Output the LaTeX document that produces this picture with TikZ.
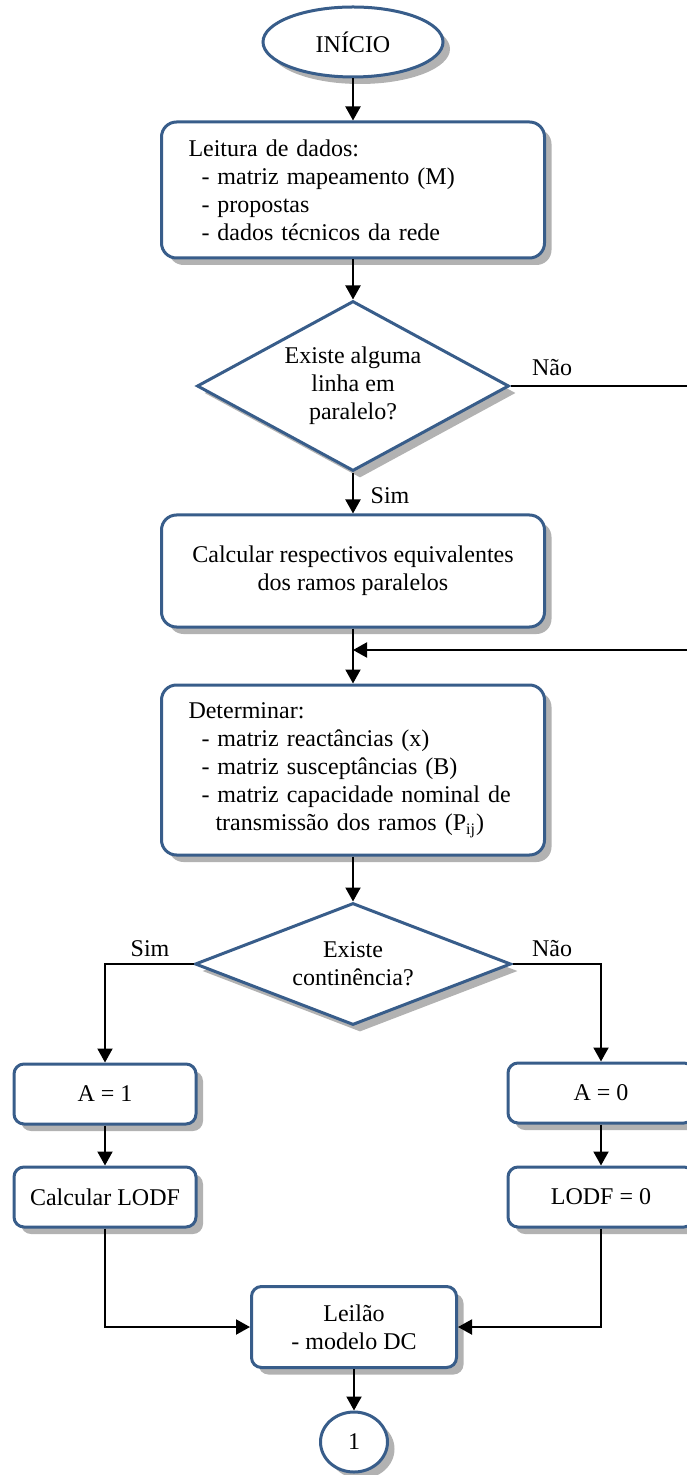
\documentclass[tikz,border=0pt]{standalone}
\usepackage{fontspec}
\setmainfont{Liberation Serif}
\usetikzlibrary{shapes.geometric,arrows.meta,shadows}
\definecolor{boxblue}{RGB}{56,93,138}
\tikzset{
every node/.style={font=\fontsize{12}{14}\selectfont},
boxshadow/.style={drop shadow={shadow xshift=3.5pt,shadow yshift=-3.5pt,fill=black!30,opacity=1}},
block/.style={boxshadow,rectangle,rounded corners=7.5pt,draw=boxblue,line width=1.5pt,fill=white},
smallblock/.style={block,rounded corners=5pt,align=center},
cond/.style={boxshadow,diamond,draw=boxblue,line width=1.5pt,fill=white,inner sep=0pt,align=center},
term/.style={boxshadow,ellipse,draw=boxblue,line width=1.5pt,fill=white,inner sep=0pt},
link/.style={line width=1pt,draw=black},
arr/.style={link,-{Triangle[length=7pt,width=7.5pt]}},
}
\newcommand{\ind}{\hspace*{6.5pt}}

\begin{document}
\begin{tikzpicture}[x=0.5pt,y=-0.5pt]
\useasboundingbox (0,0) rectangle (686,1475);
\node[term,minimum width=90pt,minimum height=35pt] (inicio) at (353,42) {INÍCIO};
\node[block,text width=164.5pt,inner xsep=13.5pt,minimum height=68pt,align=left] (leitura) at (353,190)
  {Leitura de dados:\\\ind- matriz mapeamento (M)\\\ind- propostas\\\ind- dados técnicos da rede};
\node[cond,shape aspect=1.835,minimum width=156pt,minimum height=85pt] (paral) at (353,386)
  {Existe alguma\\linha em\\paralelo?};
\node (nao1) at (552,368) {Não};
\node (sim1) at (390,496) {Sim};
\node[block,minimum width=191.5pt,minimum height=56pt,align=center] (calc) at (353,571)
  {Calcular respectivos equivalentes\\dos ramos paralelos};
\coordinate (merge) at (353,650);
\node[block,text width=164.5pt,inner xsep=13.5pt,minimum height=85pt,align=left] (det) at (353,770)
  {Determinar:\\\ind- matriz reactâncias (x)\\\ind- matriz susceptâncias (B)\\\ind- matriz capacidade nominal de\\\hspace*{13.5pt}transmissão dos ramos (P\textsubscript{ij})};
\node[cond,shape aspect=2.59,minimum width=158pt,minimum height=61pt] (cont) at (353,964)
  {Existe\\continência?};
\node (sim2) at (150,949) {Sim};
\node (nao2) at (552,949) {Não};
\node[smallblock,minimum width=91pt,minimum height=30pt] (a1) at (105,1094) {A = 1};
\node[smallblock,minimum width=91pt,minimum height=30pt] (lodf1) at (105,1197) {Calcular LODF};
\node[smallblock,minimum width=93pt,minimum height=30pt] (a0) at (601,1093) {A = 0};
\node[smallblock,minimum width=93pt,minimum height=30pt] (lodf0) at (601,1197) {LODF = 0};
\node[smallblock,minimum width=102.5pt,minimum height=40.5pt] (leilao) at (354,1327)
  {Leilão\\- modelo DC};
\node[term,minimum width=33.5pt,minimum height=30pt] (fim) at (354,1442) {1};

\draw[arr] (inicio) -- (leitura);
\draw[arr] (leitura) -- (paral);
\draw[arr] (paral.east) -- ++(184,0) |- (merge);
\draw[arr] (paral) -- (calc);
\draw[arr] (calc) -- (det);
\draw[arr] (det) -- (cont);
\draw[arr] (cont.west) -| (a1.north);
\draw[arr] (cont.east) -| (a0.north);
\draw[arr] (a1) -- (lodf1);
\draw[arr] (a0) -- (lodf0);
\draw[arr] (lodf1.south) |- (leilao.west);
\draw[arr] (lodf0.south) |- (leilao.east);
\draw[arr] (leilao) -- (fim);
\end{tikzpicture}
\end{document}
